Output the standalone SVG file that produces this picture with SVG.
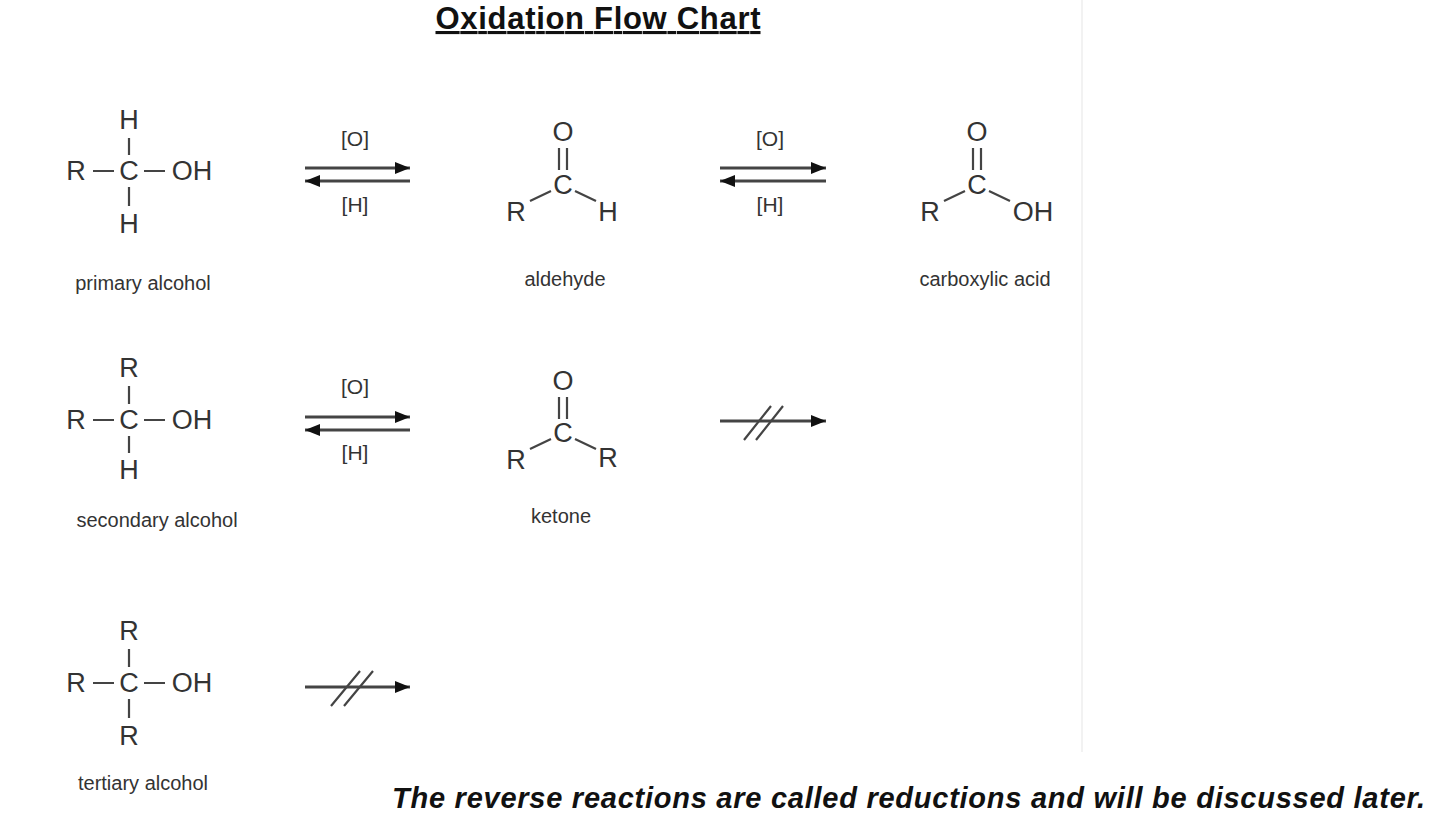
<svg xmlns="http://www.w3.org/2000/svg" width="1440" height="823" viewBox="0 0 1440 823">
<defs>
<style>
text{font-family:"Liberation Sans",Arial,sans-serif;fill:#333}
.a{font-size:27px;text-anchor:middle;dominant-baseline:central}
.l{font-size:20px;text-anchor:middle}
.r{font-size:21px;text-anchor:middle;dominant-baseline:central}
.b{stroke:#444;stroke-width:2.2;fill:none}
.w{stroke:#444;stroke-width:3;fill:none}
</style>
<marker id="ah" viewBox="0 0 10 8" refX="10" refY="4" markerWidth="5" markerHeight="4" orient="auto" markerUnits="strokeWidth"><path d="M0 0L10 4L0 8z" fill="#111"/></marker>
</defs>
<rect width="1440" height="823" fill="#fff"/>
<line x1="1082" y1="0" x2="1082" y2="752" stroke="#eee" stroke-width="1.5"/>
<text x="598" y="29" style="font-size:31px;font-weight:bold;fill:#111" text-anchor="middle" text-decoration="underline" textLength="325">Oxidation Flow Chart</text>

<g id="primary">
<text class="a" x="76" y="171">R</text><text class="a" x="129" y="171">C</text><text class="a" x="192" y="171">OH</text>
<text class="a" x="129" y="120">H</text><text class="a" x="129" y="224">H</text>
<path class="b" d="M93 171H114M144 171H165M129 138V155M129 187V206"/>
<text class="l" x="143" y="290">primary  alcohol</text>
</g>
<g id="aldehyde">
<text class="a" x="563" y="132">O</text><text class="a" x="563" y="185">C</text><text class="a" x="516" y="212">R</text><text class="a" x="608" y="212">H</text>
<path class="b" d="M559 148V170M567 148V170M530 201L551 191M575 191L596 201"/>
<text class="l" x="565" y="286">aldehyde</text>
</g>
<g id="carboxylic">
<text class="a" x="977" y="132">O</text><text class="a" x="977" y="185">C</text><text class="a" x="930" y="212">R</text><text class="a" x="1033" y="212">OH</text>
<path class="b" d="M973 148V170M981 148V170M944 201L965 191M989 191L1010 201"/>
<text class="l" x="985" y="286">carboxylic acid</text>
</g>
<g id="secondary">
<text class="a" x="76" y="420">R</text><text class="a" x="129" y="420">C</text><text class="a" x="192" y="420">OH</text>
<text class="a" x="129" y="368">R</text><text class="a" x="129" y="470">H</text>
<path class="b" d="M93 420H114M144 420H165M129 386V404M129 436V453"/>
<text class="l" x="157" y="527">secondary  alcohol</text>
</g>
<g id="ketone">
<text class="a" x="563" y="381">O</text><text class="a" x="563" y="433">C</text><text class="a" x="516" y="460">R</text><text class="a" x="608" y="458">R</text>
<path class="b" d="M559 397V419M567 397V419M530 449L551 439M575 439L596 449"/>
<text class="l" x="561" y="523">ketone</text>
</g>
<g id="tertiary">
<text class="a" x="76" y="683">R</text><text class="a" x="129" y="683">C</text><text class="a" x="192" y="683">OH</text>
<text class="a" x="129" y="631">R</text><text class="a" x="129" y="736">R</text>
<path class="b" d="M93 683H114M144 683H165M129 649V667M129 699V718"/>
<text class="l" x="143" y="790">tertiary alcohol</text>
</g>

<g id="connectors">
<path class="w" d="M305 168H410" marker-end="url(#ah)"/><path class="w" d="M410 181H305" marker-end="url(#ah)"/>
<text class="r" x="355" y="138">[O]</text><text class="r" x="355" y="204">[H]</text>
<path class="w" d="M720 168H826" marker-end="url(#ah)"/><path class="w" d="M826 181H720" marker-end="url(#ah)"/>
<text class="r" x="770" y="138">[O]</text><text class="r" x="770" y="204">[H]</text>
<path class="w" d="M305 417H410" marker-end="url(#ah)"/><path class="w" d="M410 430H305" marker-end="url(#ah)"/>
<text class="r" x="355" y="386">[O]</text><text class="r" x="355" y="452">[H]</text>
<path class="w" d="M720 421H826" marker-end="url(#ah)"/>
<path class="b" d="M744 440L771 406M756 440L783 406"/>
<path class="w" d="M305 687H410" marker-end="url(#ah)"/>
<path class="b" d="M331 706L360 671M344 706L373 671"/>
</g>
<text x="392" y="808" style="font-size:29px;font-weight:bold;font-style:italic;fill:#111" textLength="1033">The reverse reactions are called reductions and will be discussed later.</text>
</svg>
